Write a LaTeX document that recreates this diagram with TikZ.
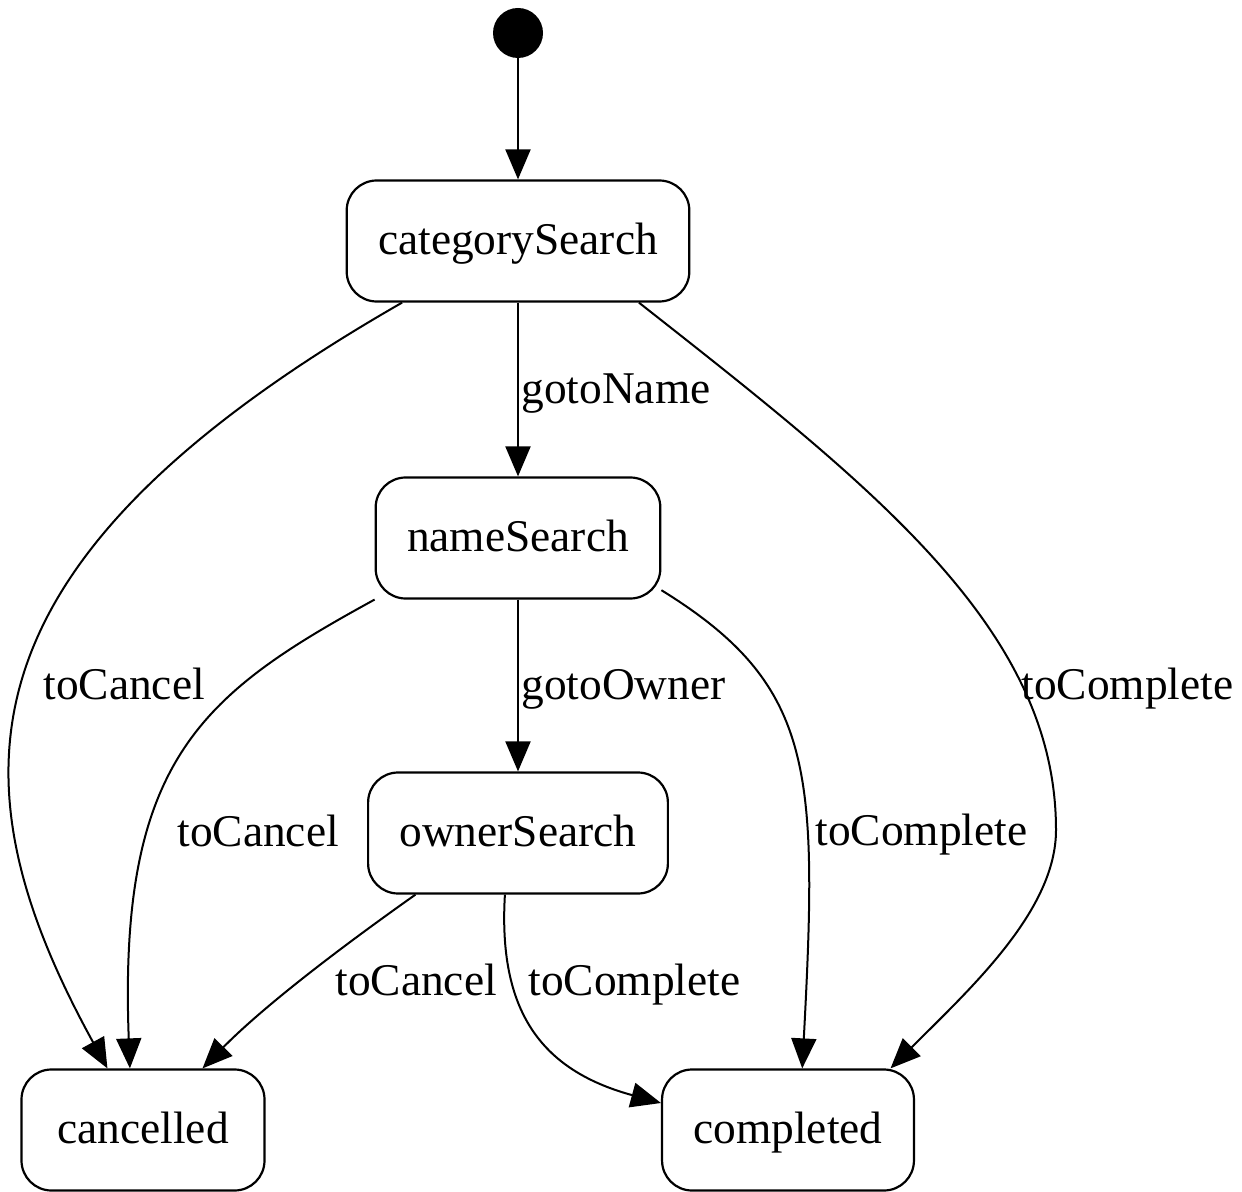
\documentclass[tikz,border=0pt]{standalone}
\usepackage{fontspec}
\setmainfont{Liberation Serif}
\usetikzlibrary{arrows.meta}

\begin{document}
\begin{tikzpicture}[x=0.5pt,y=-0.5pt,
  font=\fontsize{22.7}{27}\selectfont,
  state/.style={draw,line width=1.1pt,rounded corners=15pt,minimum height=60.5pt,
    inner xsep=15.7pt,text height=18.2pt,text depth=4.5pt},
  elabel/.style={anchor=base west,inner sep=0pt},
  trans/.style={line width=1pt,-{Triangle[length=15pt,width=12.5pt]}}]
\useasboundingbox (0,0) rectangle (1242,1192);

% states
\node[circle,fill,minimum size=25pt,inner sep=0pt] (init) at (518,33) {};
\node[state] (catSearch) at (518,241) {categorySearch};
\node[state] (nameSearch) at (518,538) {nameSearch};
\node[state] (ownerSearch) at (518,833) {ownerSearch};
\node[state,minimum width=121.5pt] (cancelled) at (143,1130) {cancelled};
\node[state] (completed) at (788,1130) {completed};

% transitions
\draw[trans] (init) -- (catSearch);
\draw[trans] (catSearch) -- (nameSearch);
\draw[trans] (nameSearch) -- (ownerSearch);
\draw[trans] (catSearch.208) .. controls (-49,561) and (-51,780) .. (cancelled.120);
\draw[trans] (nameSearch.south west) .. controls (202,694) and (118,760) .. (cancelled.102);
\draw[trans] (ownerSearch.211) .. controls (330,955) and (260,1010) .. (cancelled.46);
\draw[trans] (ownerSearch.258) .. controls (498,1010) and (540,1070) .. (completed.168);
\draw[trans] (nameSearch.340) .. controls (815,685) and (818,770) .. (completed.77);
\draw[trans] (catSearch.333) .. controls (876,489) and (1056,630) .. (1056,830)
  .. controls (1056,910) and (972,987) .. (completed.31);

% labels
\node[elabel] (lGotoName) at (521,404) {gotoName};
\node[elabel] (lGotoOwner) at (521,699) {gotoOwner};
\node[elabel] (lCancelCat) at (43,699) {toCancel};
\node[elabel] (lCancelName) at (177,846) {toCancel};
\node[elabel] (lCancelOwner) at (335,995) {toCancel};
\node[elabel] (lCompleteOwner) at (528,995) {toComplete};
\node[elabel] (lCompleteName) at (815,845) {toComplete};
\node[elabel] (lCompleteCat) at (1021,699) {toComplete};
\end{tikzpicture}
\end{document}
